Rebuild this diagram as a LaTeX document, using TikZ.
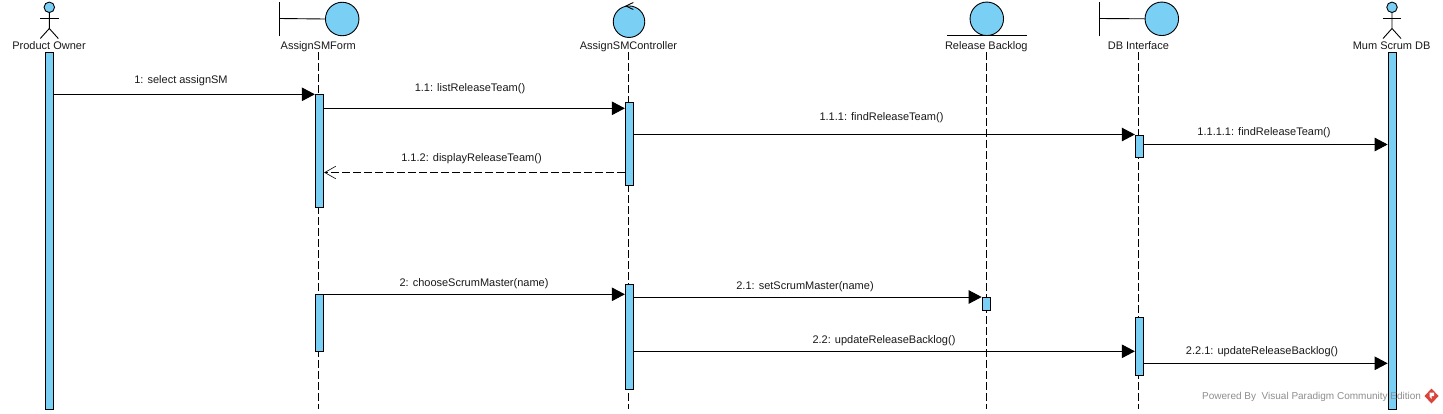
\documentclass[tikz,border=0pt]{standalone}
\usepackage{fontspec}
\setmainfont{Liberation Sans}
\usetikzlibrary{arrows.meta}
\definecolor{vpblue}{HTML}{7ACFF5}
\definecolor{vpink}{HTML}{1A1A1A}
\definecolor{wmgray}{HTML}{8E8E8E}
\definecolor{vpred}{HTML}{D9443C}
\tikzset{
  every node/.style={font=\fontsize{11}{13}\selectfont, text=vpink},
  figline/.style={draw=black, line width=0.9pt},
  headcircle/.style={circle, draw=black, fill=vpblue, line width=0.9pt, inner sep=0pt, minimum size=#1},
  roleLabel/.style={inner sep=0pt, text height=8pt, text depth=0pt, minimum height=14pt, anchor=center},
  lifeline/.style={draw=black, line width=0.9pt, dash pattern=on 7.5pt off 3.5pt},
  activation/.style={rectangle, draw=black, fill=vpblue, line width=0.9pt, inner sep=0pt, minimum width=8.4pt, anchor=north},
  msg/.style={draw=black, line width=0.9pt, -{Triangle[length=13pt,width=13.5pt,fill=black]}},
  reply/.style={draw=black, line width=0.7pt, dash pattern=on 7.5pt off 3.5pt, -{Straight Barb[length=11pt,width=12.5pt,line width=0.6pt]}},
  msgLabel/.style={inner sep=0pt, text height=8pt, text depth=0pt, anchor=center},
}
\begin{document}
\begin{tikzpicture}[x=1pt,y=-1pt]
\useasboundingbox (0,0) rectangle (1443,413);
\fill[white] (0,0) rectangle (1443,413);
\coordinate (bot) at (0,408.5);

% labels
\node[roleLabel] (lPO) at (49,45) {Product Owner};
\node[roleLabel] (lF) at (318.3,45) {AssignSMForm};
\node[roleLabel] (lC) at (628.5,45) {AssignSMController};
\node[roleLabel] (lR) at (986.3,45) {Release Backlog};
\node[roleLabel] (lD) at (1138.4,45) {DB Interface};
\node[roleLabel] (lM) at (1391.6,45) {Mum Scrum DB};

% lifelines
\draw[lifeline] (lF.south) -- (lF.south |- bot);
\draw[lifeline] (lC.south) -- (lC.south |- bot);
\draw[lifeline] (lR.south) -- (lR.south |- bot);
\draw[lifeline] (lD.south) -- (lD.south |- bot);

% actors
\node[headcircle=10.5pt] (hPO) at (49.3,7.3) {};
\draw[figline] (hPO.south) -- ++(0,15.5) coordinate (hipPO) -- ++(-9,10) (hipPO) -- ++(9,10);
\draw[figline] (40,18.3) -- (58.5,18.3);
\node[headcircle=10.5pt] (hM) at (1392,7.3) {};
\draw[figline] (hM.south) -- ++(0,15.5) coordinate (hipM) -- ++(-9,10) (hipM) -- ++(9,10);
\draw[figline] (1382.8,18.3) -- (1401.3,18.3);

% boundary: AssignSMForm
\node[headcircle=33.5pt] (cF) at (342.2,19) {};
\coordinate (barF) at (279.5,18.5);
\draw[figline] (279.5,2) -- (279.5,35.5);
\draw[figline] (barF) -- (cF.west);

% control
\node[headcircle=31.5pt] (cC) at (629,21.7) {};
\draw[figline] (633.3,2.5) -- (626,6) -- (633.3,9.5);

% entity
\node[headcircle=33.5pt] (cR) at (986.8,18.8) {};
\draw[figline] (947,35.4) -- (1027,35.4);

% boundary: DB Interface
\node[headcircle=33.5pt] (cD) at (1161.8,18.8) {};
\coordinate (barD) at (1099.4,18.5);
\draw[figline] (1099.4,2) -- (1099.4,35.5);
\draw[figline] (barD) -- (cD.west);

% activations
\node[activation, minimum height=356.5pt] (aPO) at (49.3,52) {};
\node[activation, minimum height=356.5pt] (aM) at (1392.3,52) {};
\node[activation, minimum height=113pt] (aF1) at (319.5,94.2) {};
\node[activation, minimum height=57pt] (aF2) at (319.5,294.3) {};
\node[activation, minimum height=83pt] (aC1) at (629.5,102.3) {};
\node[activation, minimum height=105pt] (aC2) at (629.5,284.3) {};
\node[activation, minimum height=22pt] (aD1) at (1139.5,134.6) {};
\node[activation, minimum height=58pt] (aD2) at (1139.5,317.3) {};
\node[activation, minimum height=13pt] (aR) at (986.3,297) {};

% message heights
\coordinate (y1) at (0,94.3);
\coordinate (y11) at (0,108.3);
\coordinate (y111) at (0,134.5);
\coordinate (y1111) at (0,144.5);
\coordinate (y112) at (0,172.5);
\coordinate (y2) at (0,294.3);
\coordinate (y21) at (0,297);
\coordinate (y22) at (0,351.3);
\coordinate (y221) at (0,363.3);

% messages
\draw[msg] (aPO.east |- y1) -- (aF1.west |- y1);
\draw[msg] (aF1.east |- y11) -- (aC1.west |- y11);
\draw[msg] (aC1.east |- y111) -- (aD1.west |- y111);
\draw[msg] (aD1.east |- y1111) -- (aM.west |- y1111);
\draw[reply] (aC1.west |- y112) -- (aF1.east |- y112);
\draw[msg] (aF2.east |- y2) -- (aC2.west |- y2);
\draw[msg] (aC2.east |- y21) -- (aR.west |- y21);
\draw[msg] (aC2.east |- y22) -- (aD2.west |- y22);
\draw[msg] (aD2.east |- y221) -- (aM.west |- y221);

% message labels
\node[msgLabel] (t1) at (181,79.3) {1: select assignSM};
\node[msgLabel] (t11) at (470,87.5) {1.1: listReleaseTeam()};
\node[msgLabel] (t111) at (881.5,116.5) {1.1.1: findReleaseTeam()};
\node[msgLabel] (t1111) at (1264,131) {1.1.1.1: findReleaseTeam()};
\node[msgLabel] (t112) at (471.5,157) {1.1.2: displayReleaseTeam()};
\node[msgLabel] (t2) at (474,282) {2: chooseScrumMaster(name)};
\node[msgLabel] (t21) at (805,285) {2.1: setScrumMaster(name)};
\node[msgLabel] (t22) at (884,339) {2.2: updateReleaseBacklog()};
\node[msgLabel] (t221) at (1262,350.3) {2.2.1: updateReleaseBacklog()};

% watermark
\node[inner sep=0pt, anchor=west, text=wmgray, font=\fontsize{10}{12}\selectfont] (wm) at (1202,396.5) {Powered By\ \ Visual Paradigm Community Edition};
\fill[vpred] (1431.5,388.5) -- (1438.5,396) -- (1431.5,403.5) -- (1424.5,396) -- cycle;
\fill[white] (1429.5,392.5) -- (1434,392.5) -- (1434,396) -- (1431.5,396) -- (1431.5,399) -- (1429.5,396.5) -- cycle;
\end{tikzpicture}
\end{document}
